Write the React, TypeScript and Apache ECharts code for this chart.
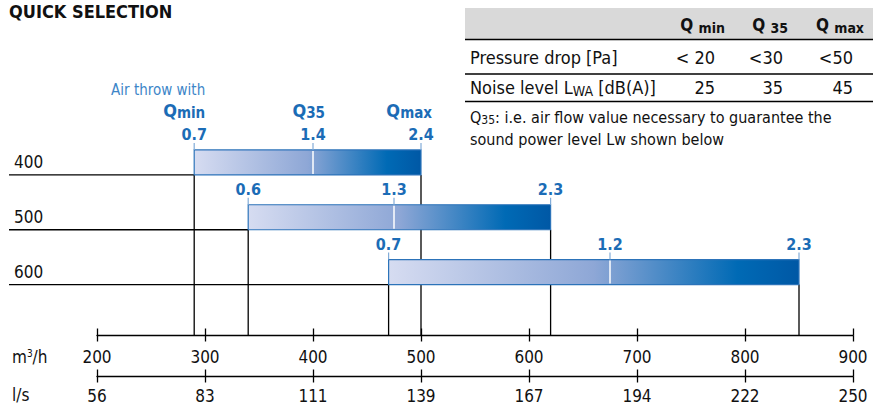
import React, { useEffect, useRef } from "react";
import * as echarts from "echarts";

// ---- data ----
const sizes = ["400", "500", "600"];
const flowMin = [290, 340, 470]; // m3/h
const flowQ35 = [400, 475, 675];
const flowMax = [500, 620, 850];
const throwMin = [0.7, 0.6, 0.7]; // air throw [m]
const throwQ35 = [1.4, 1.3, 1.2];
const throwMax = [2.4, 2.3, 2.3];
const m3hTicks = [200, 300, 400, 500, 600, 700, 800, 900];
const lsTicks = ["56", "83", "111", "139", "167", "194", "222", "250"];
const tableHeads = ["min", "35", "max"];
const pressureDrop = ["< 20", "<30", "<50"];
const noiseLevel = ["25", "35", "45"];

const FONT = "'DejaVu Sans Condensed', 'Liberation Sans Narrow', sans-serif";
const BLUE = "#1b6cb6";
const LIGHT_BLUE = "#3d86c8";
const INK = "#111";

export default function App() {
  const ref = useRef<HTMLDivElement>(null);
  useEffect(() => {
    if (!ref.current) return;
    const chart = echarts.init(ref.current, undefined, { renderer: "svg" });

    const data = sizes.map((_, i) => [i, flowMin[i], flowQ35[i], flowMax[i], throwMin[i], throwQ35[i], throwMax[i]]);

    const grad = () =>
      new echarts.graphic.LinearGradient(0, 0, 1, 0, [
        { offset: 0, color: "#d6dcf1" },
        { offset: 0.5, color: "#8ea7d6" },
        { offset: 0.85, color: "#006ab5" },
        { offset: 1, color: "#0058a5" },
      ]);

    const renderItem = (params: any, api: any) => {
      const i = api.value(0);
      const p0 = api.coord([api.value(1), i]);
      const x0 = p0[0];
      const yc = p0[1];
      const x1 = api.coord([api.value(2), i])[0];
      const x2 = api.coord([api.value(3), i])[0];
      const h = 25;
      const yTop = yc - h / 2;
      const yBot = yc + h / 2;
      const cs = params.coordSys;
      const axisY = cs.y + cs.height + 36;
      const children: any[] = [
        { type: "line", shape: { x1: 9, y1: yBot, x2: x0, y2: yBot }, style: { stroke: "#000", lineWidth: 1.3 } },
        { type: "line", shape: { x1: x0, y1: yBot, x2: x0, y2: axisY }, style: { stroke: "#000", lineWidth: 1.3 } },
        { type: "line", shape: { x1: x2, y1: yBot, x2: x2, y2: axisY }, style: { stroke: "#000", lineWidth: 1.3 } },
        {
          type: "rect",
          shape: { x: x0, y: yTop, width: x2 - x0, height: h },
          style: { fill: grad(), stroke: "#2c73b9", lineWidth: 1.2 },
        },
        { type: "line", shape: { x1: x1, y1: yTop + 1, x2: x1, y2: yBot - 1 }, style: { stroke: "#fff", lineWidth: 1.5 } },
      ];
      const xs = [x0, x1, x2];
      const vals = [api.value(4), api.value(5), api.value(6)];
      xs.forEach((x, k) => {
        children.push({
          type: "line",
          shape: { x1: x, y1: yTop - 7, x2: x, y2: yTop },
          style: { stroke: "#82acd8", lineWidth: 1.2 },
        });
        children.push({
          type: "text",
          style: {
            text: Number(vals[k]).toFixed(1),
            x: x,
            y: yTop - 15,
            align: "center",
            verticalAlign: "middle",
            fill: BLUE,
            font: `bold 16px ${FONT}`,
            lineHeight: 14,
          },
        });
      });
      if (params.dataIndex === 0) {
        children.push({
          type: "text",
          style: {
            text: "Air throw with",
            x: x0 + 11,
            y: yTop - 60,
            align: "right",
            verticalAlign: "middle",
            fill: LIGHT_BLUE,
            font: `15px ${FONT}`,
            lineHeight: 14,
          },
        });
        const qs = [
          ["min", x0 + 11],
          ["35", x1 + 12],
          ["max", x2 + 11],
        ];
        qs.forEach(([sub, x]) => {
          children.push({
            type: "text",
            style: {
              text: `{q|Q}{s|${sub}}`,
              x: x as number,
              y: yTop - 39,
              align: "right",
              verticalAlign: "middle",
              fill: BLUE,
              rich: {
                q: { fontSize: 18, fontWeight: "bold", fontFamily: FONT, fill: BLUE, lineHeight: 16 },
                s: { fontSize: 15, fontWeight: "bold", fontFamily: FONT, fill: BLUE, lineHeight: 12, padding: [5, 0, 0, 0] },
              },
            },
          });
        });
      }
      return { type: "group", children };
    };

    const baseAxis = {
      type: "value",
      min: 200,
      max: 900,
      interval: 100,
      position: "bottom",
      splitLine: { show: false },
    };

    const tableX0 = 465;
    const tableX1 = 873;
    const headRight = [725, 788, 864];
    const valRight = [715, 783, 853];

    const graphic: any[] = [
      {
        type: "text",
        x: 9,
        y: 11,
        style: { text: "QUICK SELECTION", font: `bold 18px ${FONT}`, fill: INK, verticalAlign: "middle", lineHeight: 16 },
      },
      { type: "rect", shape: { x: tableX0, y: 8, width: tableX1 - tableX0, height: 31 }, style: { fill: "#d9d9d9" } },
      { type: "line", shape: { x1: tableX0, y1: 39.5, x2: tableX1, y2: 39.5 }, style: { stroke: "#000", lineWidth: 1.3 } },
      { type: "line", shape: { x1: tableX0, y1: 74, x2: tableX1, y2: 74 }, style: { stroke: "#000", lineWidth: 1.3 } },
      { type: "line", shape: { x1: tableX0, y1: 101.5, x2: tableX1, y2: 101.5 }, style: { stroke: "#000", lineWidth: 1.3 } },
      {
        type: "text",
        x: 470,
        y: 57,
        style: { text: "Pressure drop [Pa]", font: `18px ${FONT}`, fill: INK, verticalAlign: "middle" },
      },
      {
        type: "text",
        x: 470,
        y: 87,
        style: {
          text: "{n|Noise level L}{s|WA}{n| [dB(A)]}",
          verticalAlign: "middle",
          rich: {
            n: { fontSize: 18, fontFamily: FONT, fill: INK },
            s: { fontSize: 14, fontFamily: FONT, fill: INK, padding: [8, 0, 0, 0] },
          },
        },
      },
      {
        type: "text",
        x: 470,
        y: 117,
        style: {
          text: "{n|Q}{s|35}{n|: i.e. air flow value necessary to guarantee the}",
          verticalAlign: "middle",
          rich: {
            n: { fontSize: 16, fontFamily: FONT, fill: INK, lineHeight: 18 },
            s: { fontSize: 12, fontFamily: FONT, fill: INK, padding: [5, 0, 0, 0], lineHeight: 12 },
          },
        },
      },
      {
        type: "text",
        x: 470,
        y: 139,
        style: { text: "sound power level Lw shown below", font: `16px ${FONT}`, fill: INK, verticalAlign: "middle", lineHeight: 18 },
      },
      {
        type: "text",
        x: 12,
        y: 357,
        style: {
          text: "{n|m}{p|3}{n|/h}",
          verticalAlign: "middle",
          rich: {
            n: { fontSize: 17, fontFamily: FONT, fill: INK },
            p: { fontSize: 10, fontFamily: FONT, fill: INK, padding: [0, 0, 8, 0] },
          },
        },
      },
      {
        type: "text",
        x: 12,
        y: 395,
        style: { text: "l/s", font: `17px ${FONT}`, fill: INK, verticalAlign: "middle", lineHeight: 16 },
      },
    ];
    tableHeads.forEach((h, k) => {
      graphic.push({
        type: "text",
        x: headRight[k],
        y: 25,
        style: {
          text: `{q|Q }{s|${h}}`,
          align: "right",
          verticalAlign: "middle",
          rich: {
            q: { fontSize: 17, fontWeight: "bold", fontFamily: FONT, fill: INK },
            s: { fontSize: 14, fontWeight: "bold", fontFamily: FONT, fill: INK, padding: [6, 0, 0, 0] },
          },
        },
      });
      graphic.push({
        type: "text",
        x: valRight[k],
        y: 57,
        style: { text: pressureDrop[k], font: `18px ${FONT}`, fill: INK, align: "right", verticalAlign: "middle" },
      });
      graphic.push({
        type: "text",
        x: valRight[k],
        y: 87,
        style: { text: noiseLevel[k], font: `18px ${FONT}`, fill: INK, align: "right", verticalAlign: "middle" },
      });
    });

    const lineStyle = { color: "#000", width: 1.3 };

    chart.setOption({
      animation: false,
      grid: { left: 97, right: 27, top: 135, bottom: 104 },
      xAxis: [
        {
          ...baseAxis,
          offset: 36,
          axisLine: { show: true, lineStyle },
          axisTick: { show: true, length: 6, lineStyle },
          axisLabel: { margin: 13, fontSize: 17, lineHeight: 16, color: INK, fontFamily: FONT },
        },
        {
          ...baseAxis,
          offset: 36,
          axisLine: { show: false },
          axisTick: { show: true, inside: true, length: 7, lineStyle },
          axisLabel: { show: false },
        },
        {
          ...baseAxis,
          offset: 77,
          axisLine: { show: true, lineStyle },
          axisTick: { show: true, length: 6, lineStyle },
          axisLabel: {
            margin: 11,
            fontSize: 17,
            lineHeight: 16,
            color: INK,
            fontFamily: FONT,
            formatter: (v: number) => lsTicks[m3hTicks.indexOf(v)] ?? "",
          },
        },
        {
          ...baseAxis,
          offset: 77,
          axisLine: { show: false },
          axisTick: { show: true, inside: true, length: 7, lineStyle },
          axisLabel: { show: false },
        },
      ],
      yAxis: {
        type: "category",
        data: sizes,
        inverse: true,
        axisLine: { show: false },
        axisTick: { show: false },
        splitLine: { show: false },
        axisLabel: { align: "left", margin: 83, fontSize: 17, color: INK, fontFamily: FONT, padding: [2, 0, 0, 0] },
      },
      series: [
        {
          type: "custom",
          renderItem,
          data,
          encode: { x: [1, 2, 3], y: 0 },
          clip: false,
        },
      ],
      graphic,
    });
    return () => chart.dispose();
  }, []);
  return <div ref={ref} style={{ position: "fixed", left: 0, top: 0, width: 880, height: 404, background: "#fff" }} />;
}
